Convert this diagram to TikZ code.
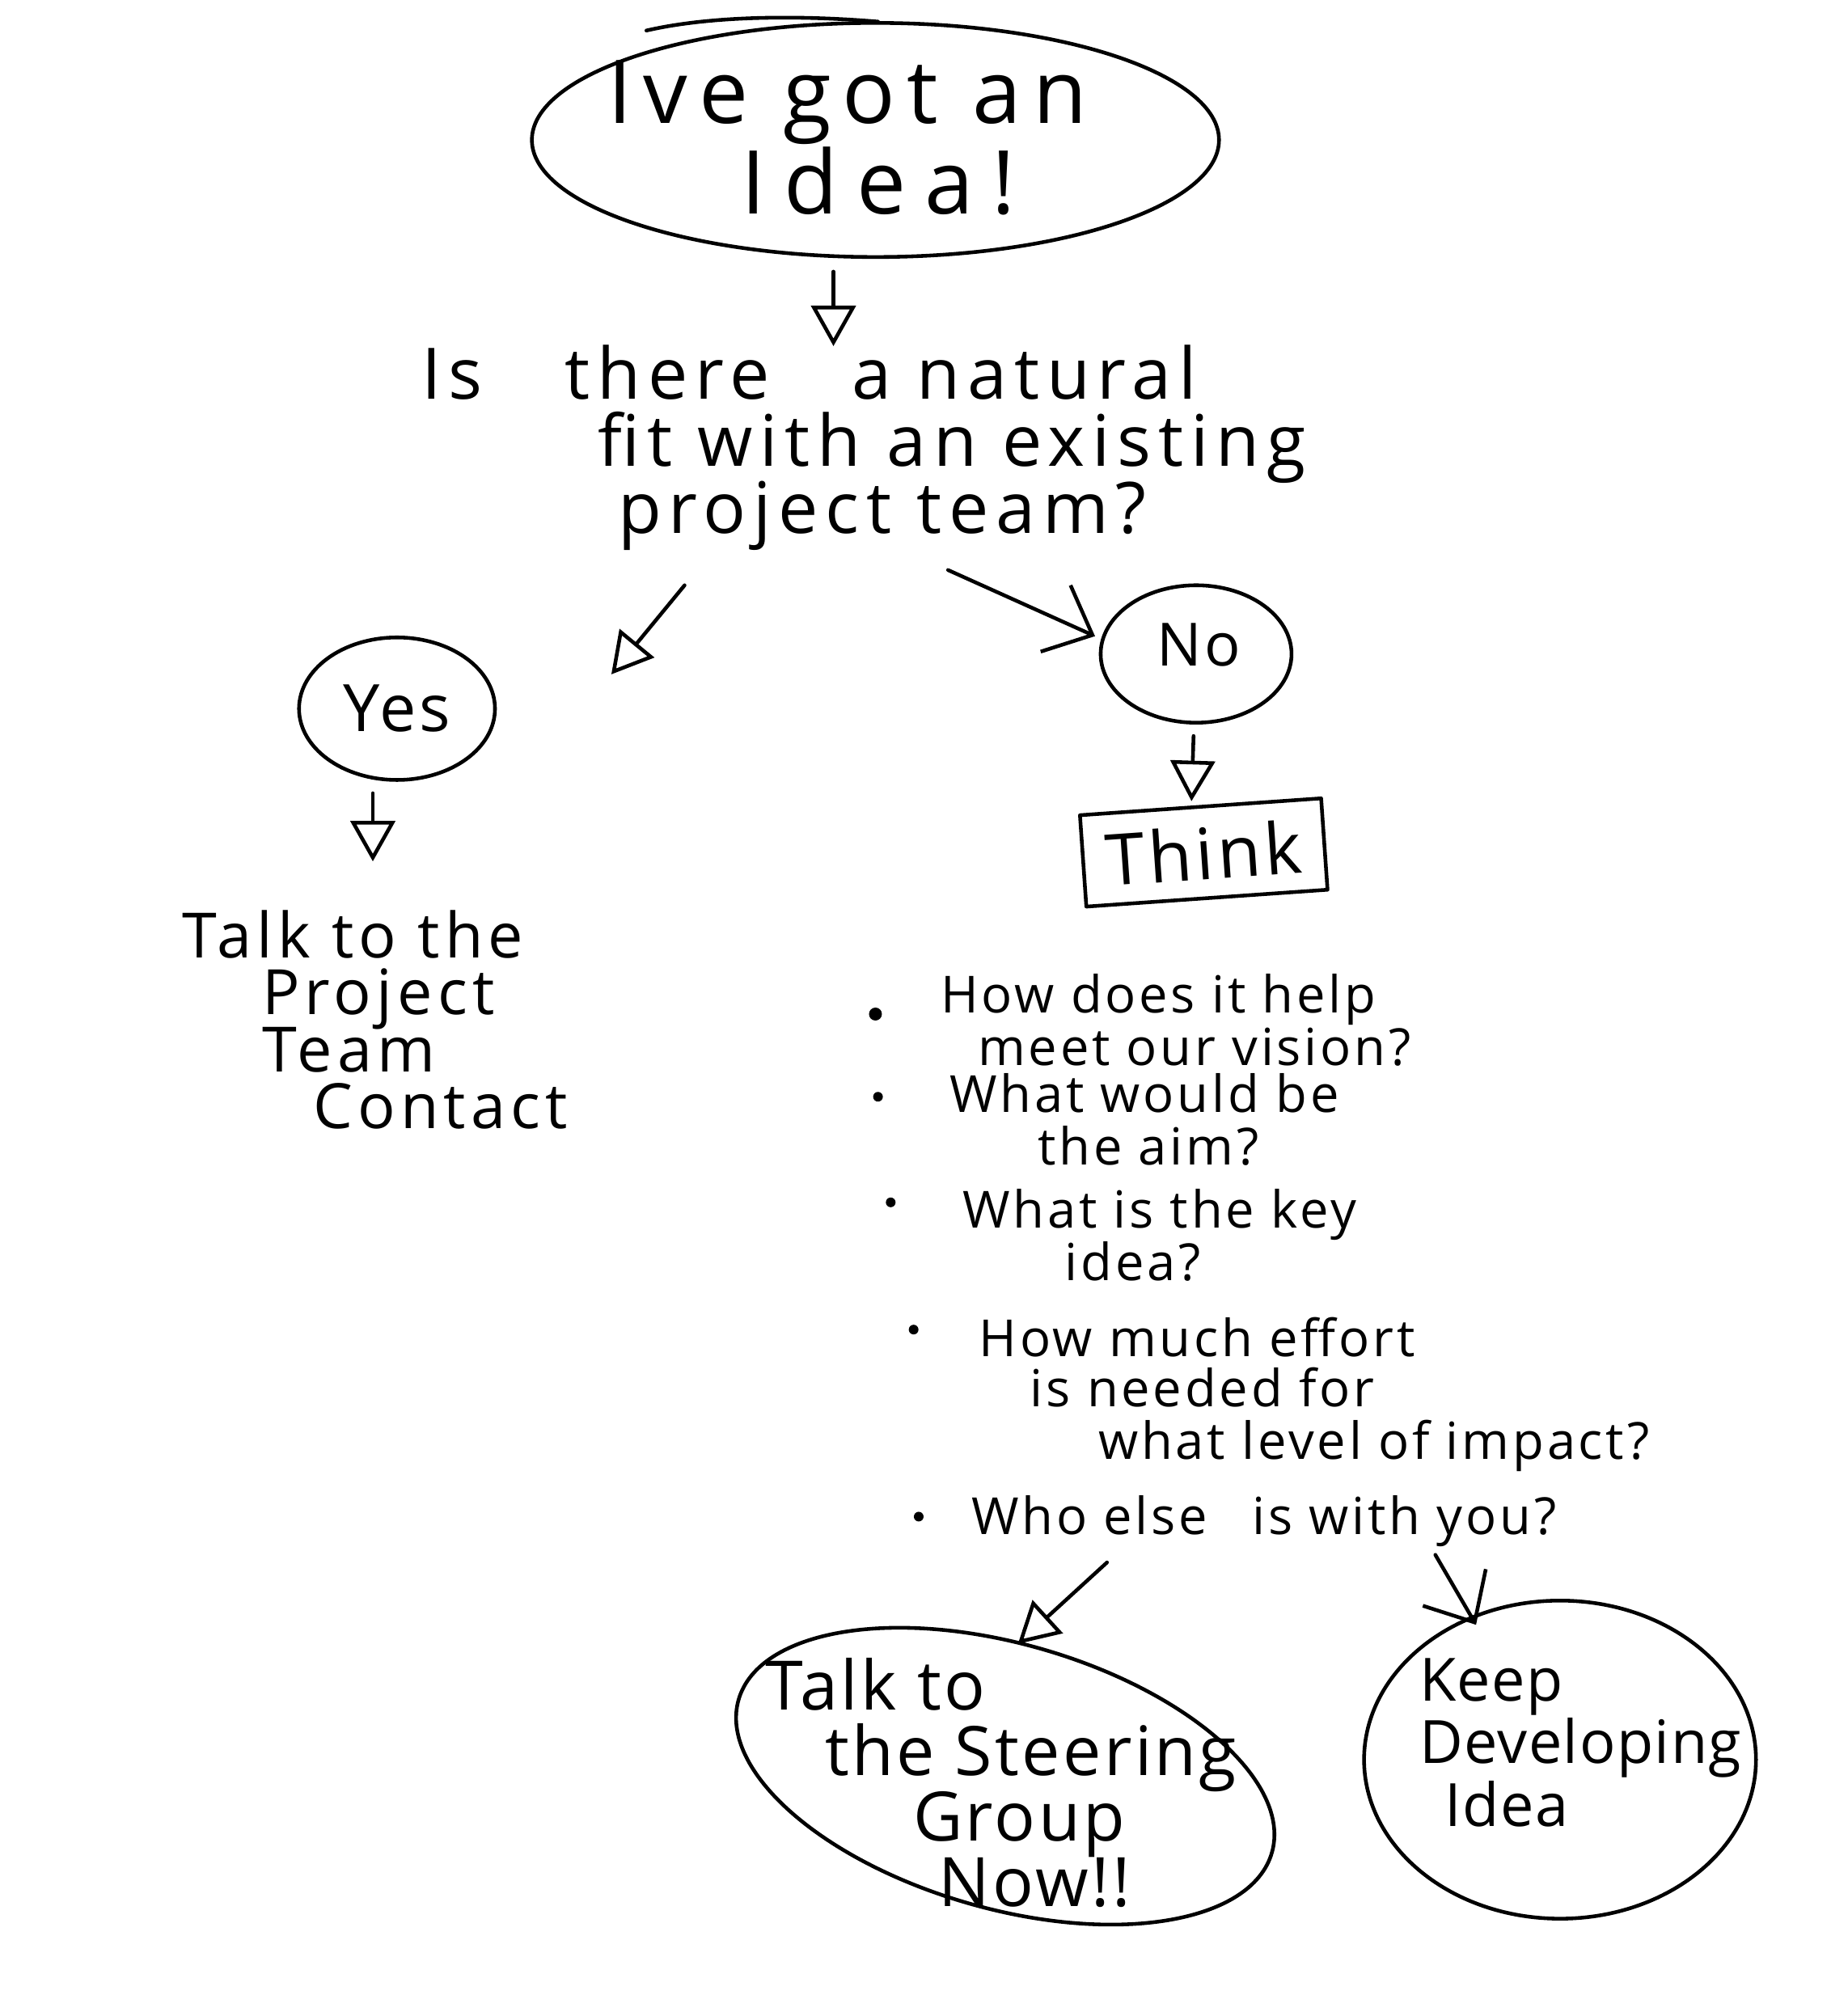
\documentclass[tikz,border=0pt]{standalone}
\usepackage{fontspec}
\setmainfont{Open Sans}
\usetikzlibrary{arrows.meta,shapes.geometric,calc}
\newcommand\pxu{0.015737cm}
\newcommand\fs[3]{\fontsize{#1}{#2}\selectfont\addfontfeatures{LetterSpace=#3}\lineskiplimit=-100pt\relax}
\begin{document}
\begin{tikzpicture}[x=0.015737cm,y=-0.015737cm, line width=1.3pt, line cap=round, line join=round,
 bubble/.style={draw, ellipse, inner sep=0pt},
 lbl/.style={align=left, inner sep=0pt, anchor=north west},
 arrt/.style={-{Triangle[open, length=0.5cm, width=0.55cm]}},
 arrv/.style={-{Straight Barb[length=0.5cm, width=0.9cm]}},
]
\useasboundingbox (0,0) rectangle (1452,1568);

% top idea
\node[bubble, minimum width=540*\pxu, minimum height=184*\pxu] (idea) at (688,110) {};
\draw (508,24) .. controls (560,12) and (630,12) .. (690,17);
\node[lbl, font=\fs{31}{32}{13}] (ideatext) at (476,46) {Ive got an\\\hspace*{47pt}{\addfontfeatures{LetterSpace=21}Idea!}};

% question
\node[lbl, font=\fs{25}{23.5}{10}] (q) at (330,270) {Is\hspace{20pt} there\hspace{20pt} a natural\\\hspace*{62pt}fit with an existing\\\hspace*{69pt}project team?};

% yes / no
\node[bubble, minimum width=154*\pxu, minimum height=112*\pxu, font=\fs{23}{24}{5}] (yes) at (312,557) {Yes};
\node[bubble, minimum width=150*\pxu, minimum height=108*\pxu] (no) at (940,514) {};
\node[inner sep=0pt, font=\fs{21}{24}{5}] (notext) at (942,507) {No};

% talk to project team
\node[lbl, font=\fs{22}{20}{8}] (talk) at (142,714) {Talk to the\\\hspace*{28pt}Project\\\hspace*{28pt}Team\\\hspace*{46pt}Contact};

% think
\node[draw, rotate=4, minimum width=190*\pxu, minimum height=72*\pxu, font=\fs{25}{26}{5}] (think) at (946,670) {Think};

% bullet list
\fill (688,797) circle[radius=0.08cm];
\fill (690,862) circle[radius=0.06cm];
\fill (700,945) circle[radius=0.06cm];
\fill (718,1045) circle[radius=0.06cm];
\fill (722,1192) circle[radius=0.06cm];
\node[lbl, font=\fs{18}{18.5}{6}] (b1) at (738,764) {How does it help\\\hspace*{13pt}meet our vision?};
\node[lbl, font=\fs{18}{18.5}{6}] (b2) at (745,842) {What would be\\\hspace*{31pt}the aim?};
\node[lbl, font=\fs{18}{18.5}{6}] (b3) at (755,933) {What is the key\\\hspace*{36pt}idea?};
\node[lbl, font=\fs{18}{17.5}{6}] (b4) at (768,1034) {How much effort\\\hspace*{18pt}is needed for\\[1pt]\hspace*{42pt}what level of impact?};
\node[lbl, font=\fs{18}{20}{6}] (b5) at (762,1174) {Who else\hspace{10pt} is with you?};

% outcomes
\node[bubble, rotate=-16, minimum width=436*\pxu, minimum height=208*\pxu] (steer) at (790,1396) {};
\node[lbl, font=\fs{24}{23}{4}] (steertext) at (600,1302) {Talk to\\\hspace*{21pt}the Steering\\\hspace*{52pt}Group\\\hspace*{61pt}Now!!};
\node[bubble, minimum width=308*\pxu, minimum height=250*\pxu] (keep) at (1226,1383) {};
\node[lbl, font=\fs{21}{22}{2}] (keeptext) at (1114,1302) {Keep\\Developing\\\hspace*{9pt}Idea};

% connectors
\draw[arrt] ($(idea.south)+(-33,10)$) -- ($(q.north west)+(325,2)$);
\draw[arrt] ($(q.north west)+(208,190)$) -- ($(yes.east)+(90,-27)$);
\draw[arrv] ($(q.north west)+(415,178)$) -- ($(no.west)+(-3,-14)$);
\draw[arrt] ($(yes.south)+(-19,9)$) -- ($(talk.north west)+(151,-37)$);
\draw[arrt] ($(no.south)+(-2,9)$) -- ($(think.north)+(-7,-3)$);
\draw[arrt] ($(b5.north west)+(108,54)$) -- ($(steer.center)+(10,-104)$);
\draw[arrv] ($(b5.north west)+(366,48)$) -- ($(keep.center)+(-66,-106)$);
\end{tikzpicture}
\end{document}
